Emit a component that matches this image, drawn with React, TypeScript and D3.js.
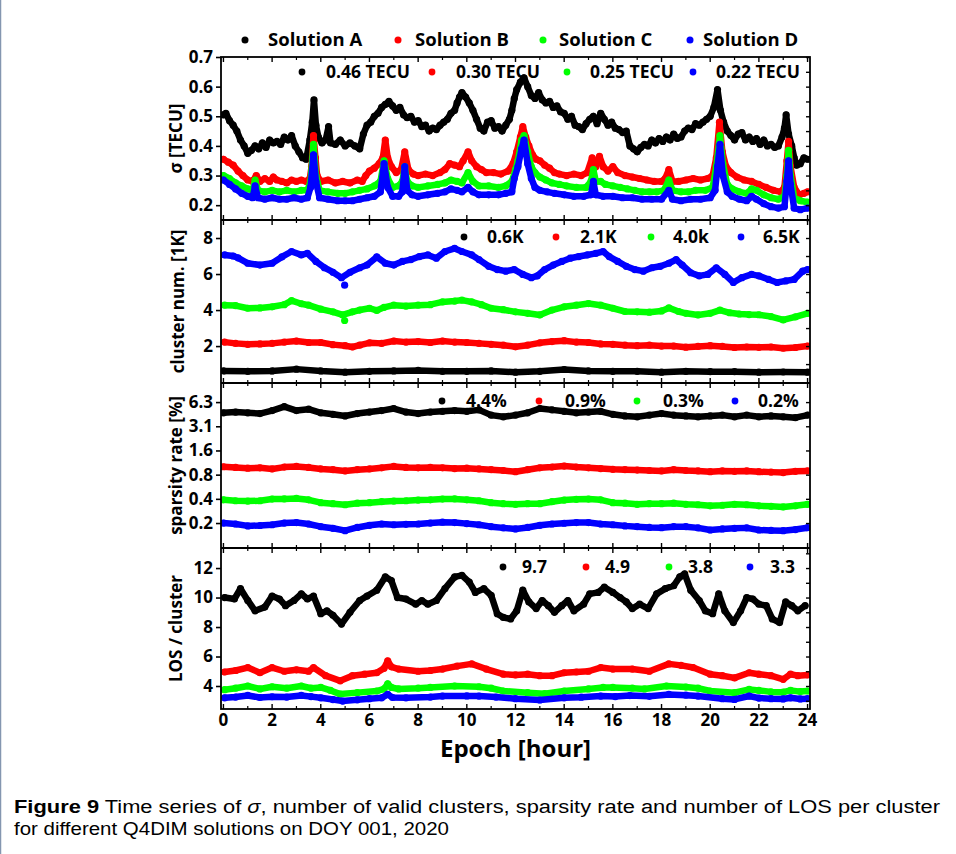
import React, { useRef, useEffect } from 'react';
import * as d3 from 'd3';

type Pt = [number, number];

// legend / series names
const solutions = ['Solution A', 'Solution B', 'Solution C', 'Solution D'];
const colors = ['#000000', '#ff0000', '#00ff00', '#0000ff'];
const sigmaMeans = ['0.46 TECU', '0.30 TECU', '0.25 TECU', '0.22 TECU'];
const clusterMeans = ['0.6K', '2.1K', '4.0k', '6.5K'];
const sparsityMeans = ['4.4%', '0.9%', '0.3%', '0.2%'];
const losMeans = ['9.7', '4.9', '3.8', '3.3'];

const xTicks = [0, 2, 4, 6, 8, 10, 12, 14, 16, 18, 20, 22, 24];
const xMinor = [1, 3, 5, 7, 9, 11, 13, 15, 17, 19, 21, 23];

const sigmaTicks = [0.2, 0.3, 0.4, 0.5, 0.6, 0.7];
const clusterTicks = [2, 4, 6, 8];
const sparsityTicks = [0.1953125, 0.390625, 0.78125, 1.5625, 3.125, 6.25];
const sparsityLabels = ['0.2', '0.4', '0.8', '1.6', '3.1', '6.3'];
const losTicks = [4, 6, 8, 10, 12];

// sigma [TECU]
const sigmaA: Pt[] = [[0,0.505],[0.1,0.51],[0.25,0.485],[0.4,0.47],[0.55,0.45],[0.7,0.42],[0.85,0.4],[1.0,0.375],[1.15,0.385],[1.3,0.4],[1.45,0.39],[1.6,0.41],[1.75,0.395],[1.9,0.42],[2.05,0.41],[2.2,0.415],[2.35,0.405],[2.5,0.43],[2.65,0.42],[2.8,0.435],[2.95,0.4],[3.1,0.38],[3.25,0.36],[3.4,0.355],[3.55,0.42],[3.65,0.48],[3.72,0.555],[3.8,0.47],[3.9,0.43],[4.05,0.41],[4.2,0.42],[4.32,0.465],[4.4,0.41],[4.6,0.405],[4.8,0.42],[5.0,0.4],[5.2,0.41],[5.4,0.4],[5.6,0.39],[5.75,0.44],[5.9,0.47],[6.05,0.48],[6.2,0.5],[6.35,0.51],[6.5,0.53],[6.65,0.54],[6.8,0.55],[6.95,0.535],[7.1,0.52],[7.25,0.53],[7.4,0.505],[7.55,0.495],[7.7,0.5],[7.85,0.48],[8.0,0.485],[8.15,0.465],[8.3,0.47],[8.45,0.45],[8.6,0.46],[8.75,0.455],[8.9,0.47],[9.05,0.48],[9.2,0.49],[9.35,0.51],[9.5,0.52],[9.6,0.545],[9.7,0.565],[9.8,0.58],[9.95,0.565],[10.1,0.545],[10.25,0.52],[10.4,0.49],[10.55,0.46],[10.7,0.45],[10.85,0.48],[11.0,0.485],[11.15,0.46],[11.3,0.465],[11.45,0.45],[11.6,0.47],[11.75,0.49],[11.85,0.52],[11.95,0.56],[12.05,0.59],[12.2,0.615],[12.35,0.63],[12.5,0.6],[12.65,0.57],[12.8,0.56],[12.95,0.58],[13.1,0.555],[13.25,0.545],[13.4,0.55],[13.55,0.53],[13.7,0.535],[13.85,0.515],[14.0,0.51],[14.15,0.49],[14.3,0.5],[14.45,0.47],[14.6,0.465],[14.75,0.455],[14.9,0.475],[15.05,0.49],[15.2,0.5],[15.35,0.475],[15.5,0.51],[15.65,0.49],[15.8,0.47],[15.95,0.48],[16.1,0.46],[16.25,0.455],[16.4,0.445],[16.55,0.45],[16.7,0.4],[16.85,0.39],[17.0,0.38],[17.15,0.395],[17.3,0.405],[17.45,0.4],[17.6,0.42],[17.75,0.41],[17.9,0.425],[18.05,0.415],[18.2,0.43],[18.35,0.42],[18.5,0.44],[18.65,0.425],[18.8,0.43],[18.95,0.45],[19.1,0.46],[19.25,0.455],[19.4,0.475],[19.55,0.47],[19.7,0.48],[19.85,0.49],[20.0,0.5],[20.15,0.53],[20.3,0.59],[20.42,0.52],[20.55,0.48],[20.7,0.45],[20.85,0.435],[21.0,0.42],[21.15,0.44],[21.3,0.445],[21.45,0.42],[21.6,0.43],[21.75,0.415],[21.9,0.425],[22.05,0.405],[22.2,0.42],[22.35,0.4],[22.5,0.405],[22.65,0.395],[22.8,0.4],[22.95,0.43],[23.05,0.46],[23.12,0.505],[23.22,0.44],[23.35,0.4],[23.45,0.36],[23.55,0.335],[23.7,0.34],[23.85,0.36],[24.0,0.355]];
const sigmaB: Pt[] = [[0,0.355],[0.2,0.345],[0.4,0.335],[0.6,0.315],[0.8,0.3],[1.0,0.285],[1.2,0.28],[1.35,0.3],[1.5,0.28],[1.7,0.29],[1.9,0.28],[2.05,0.295],[2.2,0.285],[2.4,0.28],[2.6,0.275],[2.8,0.285],[3.0,0.28],[3.2,0.285],[3.4,0.28],[3.55,0.29],[3.62,0.33],[3.7,0.435],[3.78,0.36],[3.85,0.3],[4.0,0.28],[4.3,0.285],[4.6,0.275],[4.9,0.28],[5.2,0.275],[5.5,0.285],[5.7,0.28],[5.85,0.3],[6.0,0.315],[6.2,0.325],[6.4,0.34],[6.55,0.36],[6.65,0.42],[6.75,0.36],[6.9,0.33],[7.1,0.31],[7.3,0.32],[7.45,0.38],[7.6,0.32],[7.8,0.305],[8.0,0.3],[8.3,0.305],[8.6,0.3],[8.9,0.31],[9.1,0.32],[9.3,0.34],[9.5,0.335],[9.7,0.33],[9.85,0.35],[10.05,0.38],[10.2,0.35],[10.4,0.33],[10.6,0.32],[10.8,0.31],[11.1,0.31],[11.4,0.305],[11.7,0.315],[11.9,0.34],[12.05,0.38],[12.2,0.43],[12.3,0.465],[12.42,0.43],[12.55,0.4],[12.7,0.37],[12.85,0.355],[13.0,0.35],[13.2,0.335],[13.4,0.325],[13.6,0.31],[13.8,0.305],[14.1,0.3],[14.4,0.305],[14.7,0.3],[14.95,0.31],[15.15,0.36],[15.3,0.33],[15.45,0.365],[15.6,0.33],[15.8,0.315],[16.0,0.33],[16.2,0.31],[16.5,0.3],[16.8,0.295],[17.1,0.29],[17.4,0.285],[17.7,0.28],[18.0,0.28],[18.15,0.29],[18.3,0.32],[18.45,0.28],[18.7,0.28],[19.0,0.285],[19.3,0.29],[19.6,0.285],[19.9,0.29],[20.1,0.3],[20.25,0.36],[20.38,0.48],[20.5,0.38],[20.65,0.33],[20.85,0.31],[21.1,0.295],[21.4,0.285],[21.7,0.28],[22.0,0.27],[22.3,0.26],[22.6,0.25],[22.9,0.245],[23.05,0.26],[23.15,0.35],[23.22,0.415],[23.3,0.33],[23.45,0.26],[23.65,0.235],[23.85,0.24],[24.0,0.245]];
const sigmaC: Pt[] = [[0,0.3],[0.25,0.29],[0.5,0.275],[0.75,0.265],[1.0,0.255],[1.2,0.25],[1.3,0.285],[1.42,0.25],[1.7,0.245],[2.0,0.25],[2.3,0.245],[2.6,0.25],[2.9,0.245],[3.2,0.25],[3.45,0.25],[3.58,0.28],[3.7,0.405],[3.8,0.3],[3.95,0.25],[4.3,0.245],[4.7,0.24],[5.0,0.24],[5.3,0.245],[5.6,0.25],[5.9,0.255],[6.2,0.265],[6.45,0.28],[6.6,0.35],[6.75,0.29],[6.95,0.26],[7.2,0.265],[7.35,0.28],[7.45,0.33],[7.55,0.28],[7.75,0.265],[8.0,0.26],[8.4,0.265],[8.8,0.27],[9.1,0.275],[9.35,0.285],[9.6,0.28],[9.8,0.275],[10.05,0.31],[10.25,0.28],[10.5,0.265],[10.9,0.265],[11.3,0.26],[11.6,0.265],[11.85,0.28],[12.0,0.32],[12.1,0.35],[12.25,0.42],[12.35,0.435],[12.5,0.38],[12.65,0.33],[12.8,0.31],[13.0,0.295],[13.25,0.285],[13.5,0.275],[13.8,0.27],[14.1,0.265],[14.5,0.26],[14.9,0.26],[15.1,0.28],[15.2,0.32],[15.3,0.28],[15.5,0.28],[15.7,0.27],[16.0,0.265],[16.3,0.26],[16.6,0.255],[16.9,0.25],[17.2,0.245],[17.5,0.245],[17.8,0.245],[18.1,0.25],[18.3,0.285],[18.45,0.25],[18.8,0.245],[19.1,0.245],[19.4,0.25],[19.8,0.25],[20.1,0.26],[20.25,0.33],[20.4,0.435],[20.52,0.34],[20.7,0.27],[20.9,0.255],[21.2,0.245],[21.5,0.24],[21.7,0.255],[21.9,0.25],[22.2,0.235],[22.5,0.225],[22.8,0.22],[23.05,0.23],[23.15,0.3],[23.22,0.385],[23.3,0.3],[23.45,0.225],[23.7,0.215],[24.0,0.21]];
const sigmaD: Pt[] = [[0,0.285],[0.25,0.27],[0.5,0.255],[0.75,0.24],[1.0,0.23],[1.2,0.225],[1.3,0.265],[1.42,0.225],[1.7,0.22],[2.0,0.225],[2.3,0.22],[2.6,0.22],[2.9,0.225],[3.2,0.22],[3.45,0.225],[3.58,0.26],[3.7,0.37],[3.8,0.28],[3.95,0.225],[4.3,0.22],[4.7,0.215],[5.0,0.215],[5.3,0.215],[5.6,0.22],[5.9,0.225],[6.2,0.23],[6.45,0.245],[6.6,0.34],[6.75,0.26],[6.95,0.23],[7.2,0.23],[7.35,0.245],[7.45,0.33],[7.55,0.25],[7.75,0.235],[8.0,0.23],[8.4,0.235],[8.8,0.24],[9.1,0.245],[9.35,0.255],[9.6,0.25],[9.8,0.245],[10.05,0.26],[10.25,0.245],[10.5,0.235],[10.9,0.235],[11.3,0.235],[11.6,0.24],[11.85,0.245],[11.95,0.29],[12.1,0.33],[12.25,0.39],[12.35,0.42],[12.5,0.34],[12.65,0.29],[12.8,0.26],[13.0,0.25],[13.3,0.245],[13.6,0.24],[14.0,0.235],[14.4,0.23],[14.8,0.23],[15.1,0.235],[15.2,0.28],[15.3,0.235],[15.6,0.23],[16.0,0.23],[16.4,0.225],[16.8,0.225],[17.2,0.22],[17.6,0.22],[18.0,0.22],[18.3,0.25],[18.45,0.22],[18.8,0.215],[19.2,0.22],[19.6,0.22],[20.0,0.225],[20.2,0.25],[20.3,0.33],[20.4,0.405],[20.52,0.3],[20.7,0.245],[20.9,0.23],[21.2,0.22],[21.5,0.215],[21.7,0.23],[21.9,0.22],[22.2,0.205],[22.5,0.195],[22.8,0.19],[23.05,0.195],[23.15,0.28],[23.22,0.35],[23.3,0.27],[23.45,0.19],[23.7,0.185],[24.0,0.19]];

// cluster num. [1K]
const clusterA: Pt[] = [[0,0.62],[1,0.6],[2,0.62],[3,0.72],[4,0.62],[5,0.55],[6,0.6],[7,0.62],[8,0.65],[9,0.6],[10,0.6],[11,0.62],[12,0.55],[13,0.6],[14,0.7],[15,0.62],[16,0.6],[17,0.6],[18,0.55],[19,0.6],[20,0.58],[21,0.58],[22,0.55],[23,0.56],[24,0.55]];
const clusterB: Pt[] = [[0.05,2.22],[0.5,2.15],[1,2.1],[1.5,2.12],[2,2.15],[2.5,2.22],[3,2.28],[3.5,2.2],[4,2.2],[4.5,2.08],[5,2.02],[5.3,1.95],[5.6,2.05],[6,2.18],[6.5,2.15],[7,2.28],[7.5,2.22],[8,2.25],[8.5,2.2],[9,2.28],[9.5,2.22],[10,2.2],[10.5,2.15],[11,2.1],[11.5,2.05],[12,1.96],[12.5,2.05],[13,2.18],[13.5,2.25],[14,2.3],[14.5,2.22],[15,2.2],[15.5,2.12],[16,2.1],[16.5,2.05],[17,2.02],[17.5,2.05],[18,2.0],[18.5,2.0],[19,1.94],[19.5,1.98],[20,2.02],[20.5,1.98],[21,1.92],[21.5,1.95],[22,1.93],[22.5,1.95],[23,1.88],[23.5,1.92],[24,2.0]];
const clusterC: Pt[] = [[0.05,4.27],[0.5,4.25],[1,4.1],[1.5,4.12],[2,4.18],[2.5,4.3],[2.8,4.52],[3.2,4.35],[3.5,4.27],[4,4.05],[4.5,3.9],[4.9,3.73],[5.3,3.9],[5.6,4.0],[6,4.1],[6.3,3.98],[6.6,4.15],[7,4.27],[7.5,4.22],[8,4.27],[8.5,4.3],[9,4.45],[9.5,4.5],[9.8,4.55],[10.2,4.45],[10.6,4.3],[11,4.1],[11.5,4.02],[12,3.9],[12.5,3.82],[13,3.73],[13.5,4.0],[14,4.18],[14.5,4.27],[15,4.36],[15.5,4.27],[16,4.1],[16.5,3.92],[17,3.9],[17.5,3.88],[18,3.95],[18.3,4.12],[18.7,3.92],[19,3.82],[19.5,3.73],[20,3.82],[20.4,4.0],[20.8,3.85],[21.2,3.78],[21.6,3.75],[22,3.74],[22.5,3.64],[23,3.45],[23.5,3.62],[24,3.82]];
const clusterD: Pt[] = [[0.05,7.06],[0.4,7.0],[0.6,6.9],[1.0,6.6],[1.5,6.5],[2.0,6.6],[2.4,6.95],[2.8,7.25],[3.2,7.06],[3.45,7.15],[3.8,6.7],[4.15,6.35],[4.5,6.1],[4.85,5.8],[5.2,6.1],[5.6,6.35],[5.9,6.5],[6.3,6.95],[6.65,6.6],[7.0,6.5],[7.35,6.7],[7.7,6.8],[8.05,6.97],[8.4,7.06],[8.75,6.88],[9.1,7.25],[9.5,7.42],[9.8,7.25],[10.2,7.06],[10.5,6.8],[10.9,6.43],[11.25,6.25],[11.6,6.16],[11.95,6.25],[12.3,5.98],[12.65,5.8],[12.9,5.9],[13.2,6.25],[13.55,6.5],[13.9,6.7],[14.25,6.88],[14.6,6.97],[14.95,7.06],[15.3,7.15],[15.6,7.25],[15.85,6.97],[16.2,6.7],[16.55,6.43],[16.9,6.25],[17.25,6.16],[17.6,6.35],[17.95,6.43],[18.3,6.6],[18.6,6.8],[18.85,6.5],[19.2,6.07],[19.55,5.9],[19.9,5.98],[20.25,6.35],[20.6,5.98],[20.95,5.53],[21.3,5.8],[21.7,5.98],[22.0,5.9],[22.4,5.7],[22.75,5.53],[23.1,5.62],[23.45,5.7],[23.8,6.16],[24,6.25]];
const clusterCOutliers: Pt[] = [[4.98, 3.42]];
const clusterDOutliers: Pt[] = [[4.98, 5.38]];

// sparsity rate [%]
const sparsityA: Pt[] = [[0,4.6],[0.5,4.7],[1,4.6],[1.5,4.5],[2,4.9],[2.5,5.5],[3,4.9],[3.5,5.1],[4,4.6],[4.5,4.4],[5,4.2],[5.5,4.5],[6,4.7],[6.5,4.9],[7,5.2],[7.5,4.7],[8,4.5],[8.5,4.7],[9,4.8],[9.5,4.9],[10,4.8],[10.5,5.0],[11,4.3],[11.5,4.1],[12,4.3],[12.5,4.6],[13,5.2],[13.5,5.0],[14,4.8],[14.5,4.6],[15,4.7],[15.5,4.8],[16,4.4],[16.5,4.2],[17,4.1],[17.5,4.3],[18,4.5],[18.5,4.3],[19,4.2],[19.5,4.1],[20,4.2],[20.5,4.3],[21,4.1],[21.5,4.3],[22,4.1],[22.5,4.2],[23,4.1],[23.5,4.0],[24,4.3]];
const sparsityB: Pt[] = [[0,0.98],[0.5,0.96],[1,0.94],[1.5,0.95],[2,0.92],[2.5,0.97],[3,0.99],[3.5,0.96],[4,0.92],[4.5,0.9],[5,0.87],[5.5,0.9],[6,0.92],[6.5,0.95],[7,0.99],[7.5,0.96],[8,0.95],[8.5,0.96],[9,0.95],[9.5,0.93],[10,0.94],[10.5,0.92],[11,0.9],[11.5,0.88],[12,0.85],[12.5,0.9],[13,0.95],[13.5,0.97],[14,1.0],[14.5,0.97],[15,0.95],[15.5,0.93],[16,0.91],[16.5,0.9],[17,0.89],[17.5,0.88],[18,0.87],[18.5,0.9],[19,0.88],[19.5,0.87],[20,0.85],[20.5,0.87],[21,0.86],[21.5,0.87],[22,0.85],[22.5,0.84],[23,0.83],[23.5,0.86],[24,0.87]];
const sparsityC: Pt[] = [[0,0.38],[0.5,0.37],[1,0.366],[1.5,0.37],[2,0.388],[2.5,0.39],[3,0.395],[3.5,0.38],[4,0.35],[4.5,0.34],[5,0.33],[5.5,0.345],[6,0.35],[6.5,0.36],[7,0.366],[7.5,0.37],[8,0.377],[8.5,0.38],[9,0.388],[9.5,0.39],[10,0.38],[10.5,0.37],[11,0.35],[11.5,0.34],[12,0.334],[12.5,0.34],[13,0.34],[13.5,0.36],[14,0.377],[14.5,0.385],[15,0.388],[15.5,0.38],[16,0.35],[16.5,0.345],[17,0.334],[17.5,0.34],[18,0.34],[18.5,0.345],[19,0.334],[19.5,0.33],[20,0.32],[20.5,0.325],[21,0.334],[21.5,0.33],[22,0.32],[22.5,0.315],[23,0.31],[23.5,0.32],[24,0.334]];
const sparsityD: Pt[] = [[0,0.195],[0.5,0.19],[1,0.18],[1.5,0.182],[2,0.186],[2.5,0.195],[3,0.198],[3.5,0.19],[4,0.176],[4.5,0.168],[5,0.157],[5.5,0.172],[6,0.183],[6.5,0.19],[7,0.186],[7.5,0.188],[8,0.19],[8.5,0.195],[9,0.2],[9.5,0.198],[10,0.192],[10.5,0.186],[11,0.176],[11.5,0.17],[12,0.165],[12.5,0.172],[13,0.183],[13.5,0.19],[14,0.194],[14.5,0.198],[15,0.198],[15.5,0.19],[16,0.186],[16.5,0.18],[17,0.176],[17.5,0.172],[18,0.171],[18.5,0.176],[19,0.176],[19.5,0.17],[20,0.16],[20.5,0.165],[21,0.168],[21.5,0.17],[22,0.16],[22.5,0.158],[23,0.157],[23.5,0.162],[24,0.171]];

// LOS / cluster
const losA: Pt[] = [[0.05,10.0],[0.45,9.9],[0.7,10.6],[1.0,9.8],[1.3,9.1],[1.7,9.35],[2.0,10.1],[2.3,9.9],[2.55,9.45],[2.9,9.8],[3.2,10.25],[3.45,9.9],[3.7,10.1],[4.0,8.9],[4.25,9.1],[4.5,8.8],[4.85,8.2],[5.2,9.0],[5.6,9.8],[5.9,10.1],[6.3,10.5],[6.65,11.4],[6.9,11.15],[7.15,10.0],[7.5,9.9],[7.9,9.55],[8.15,9.8],[8.4,9.55],[8.75,9.8],[9.1,10.6],[9.5,11.4],[9.8,11.5],[10.1,11.05],[10.35,10.35],[10.7,10.6],[11.0,10.15],[11.25,8.9],[11.5,8.65],[11.8,8.55],[12.05,9.1],[12.3,10.5],[12.55,9.7],[12.85,9.25],[13.1,9.8],[13.35,9.45],[13.6,9.0],[13.9,9.45],[14.15,9.8],[14.4,9.1],[14.8,9.55],[15.05,10.25],[15.4,10.35],[15.65,10.7],[16.0,10.35],[16.3,10.0],[16.55,9.7],[16.8,9.25],[17.1,9.55],[17.45,9.25],[17.8,10.25],[18.15,10.6],[18.5,10.8],[18.75,11.4],[18.95,11.6],[19.2,10.5],[19.55,9.8],[19.8,9.1],[20.1,8.9],[20.35,10.25],[20.6,9.1],[20.95,8.3],[21.25,9.1],[21.5,10.0],[21.75,9.9],[22.0,9.55],[22.3,9.45],[22.55,8.55],[22.85,8.3],[23.1,9.7],[23.35,9.45],[23.6,9.1],[23.9,9.45]];
const losB: Pt[] = [[0.05,4.95],[0.5,5.05],[1.0,5.25],[1.5,4.9],[2.0,5.25],[2.5,5.0],[3.0,5.1],[3.5,5.0],[3.7,5.25],[4.2,4.7],[4.8,4.35],[5.3,4.7],[5.8,4.8],[6.3,4.9],[6.6,5.2],[6.75,5.7],[6.9,5.3],[7.2,5.15],[8.0,5.0],[8.5,5.05],[9.0,5.15],[9.6,5.35],[10.2,5.5],[10.8,5.15],[11.5,4.8],[12.0,4.75],[12.5,4.8],[13.0,4.7],[13.5,4.7],[14.0,4.9],[14.5,4.95],[15.0,5.0],[15.5,5.25],[16.0,5.15],[16.8,5.15],[17.5,5.0],[18.3,5.5],[18.8,5.4],[19.3,5.25],[20.0,4.8],[20.5,4.7],[21.0,4.55],[21.6,4.9],[22.0,4.8],[22.5,4.7],[23.0,4.45],[23.3,4.8],[23.6,4.7],[24.0,4.75]];
const losC: Pt[] = [[0.05,3.75],[0.5,3.85],[1.0,4.0],[1.5,3.8],[2.0,3.95],[2.6,3.85],[3.2,4.0],[3.6,3.85],[4.0,3.9],[4.4,3.7],[4.8,3.45],[5.5,3.55],[6.3,3.66],[6.6,3.8],[6.75,4.15],[6.9,3.9],[7.2,3.8],[8.0,3.85],[8.5,3.9],[9.5,4.0],[10.5,3.95],[11.0,3.85],[11.5,3.66],[12.5,3.55],[13.2,3.48],[14.0,3.66],[15.0,3.8],[15.6,3.9],[16.0,3.9],[16.8,3.85],[17.3,3.8],[18.2,4.0],[19.0,3.93],[19.5,3.85],[20.0,3.66],[21.0,3.55],[21.6,3.77],[22.0,3.7],[22.5,3.6],[23.0,3.58],[23.3,3.7],[23.7,3.62],[24.0,3.66]];
const losD: Pt[] = [[0.05,3.2],[0.5,3.25],[1.0,3.36],[1.5,3.22],[2.0,3.27],[2.6,3.25],[3.2,3.36],[3.6,3.28],[4.0,3.2],[4.5,3.08],[4.9,2.98],[5.5,3.06],[6.0,3.14],[6.5,3.2],[6.75,3.43],[6.95,3.22],[7.5,3.2],[8.5,3.25],[9.0,3.32],[10.0,3.33],[10.5,3.32],[11.2,3.25],[12.0,3.14],[13.0,3.05],[14.0,3.2],[14.7,3.24],[15.5,3.32],[16.1,3.28],[16.7,3.35],[17.5,3.3],[18.3,3.43],[19.0,3.38],[19.5,3.32],[20.5,3.14],[21.0,3.09],[21.6,3.32],[22.0,3.18],[22.5,3.14],[23.0,3.12],[23.3,3.2],[23.7,3.12],[24.0,3.14]];

const FONT = "'Open Sans', 'Noto Sans', sans-serif";
const W = 956;
const H = 854;
const plotLeft = 221;
const plotRight = 810;
const edges = [57, 220, 383, 548, 709];

function Chart() {
  const svgRef = useRef<SVGSVGElement>(null);

  useEffect(() => {
    const svg = d3.select(svgRef.current);
    svg.selectAll('*').remove();

    const x = d3.scaleLinear().domain([-0.1, 24.1]).range([plotLeft, plotRight]);

    const panels = [
      {
        series: [sigmaA, sigmaB, sigmaC, sigmaD], extras: [[], [], [], []] as Pt[][],
        y: d3.scaleLinear().domain([0.15, 0.7]).range([edges[1], edges[0]]),
        ticks: sigmaTicks, fmt: (d: number) => d.toFixed(1), minor: d3.range(0.15, 0.701, 0.05),
        title: 'σ [TECU]', titleX: 176,
        legend: sigmaMeans, legY: 72, dots: [302, 432, 567, 693], texts: [326, 456, 590, 716],
      },
      {
        series: [clusterA, clusterB, clusterC, clusterD], extras: [[], [], clusterCOutliers, clusterDOutliers],
        y: d3.scaleLinear().domain([-0.05, 9.0]).range([edges[2], edges[1]]),
        ticks: clusterTicks, fmt: (d: number) => String(d), minor: d3.range(1, 9, 1),
        title: 'cluster num. [1K]', titleX: 178,
        legend: clusterMeans, legY: 237, dots: [464, 556, 651, 741], texts: [487, 580, 673, 763],
      },
      {
        series: [sparsityA, sparsityB, sparsityC, sparsityD], extras: [[], [], [], []] as Pt[][],
        y: d3.scaleLog().domain([0.0955, 10.8]).range([edges[3], edges[2]]),
        ticks: sparsityTicks, fmt: (d: number) => sparsityLabels[sparsityTicks.indexOf(d)], minor: sparsityTicks,
        title: 'sparsity rate [%]', titleX: 176,
        legend: sparsityMeans, legY: 401, dots: [442, 539, 637, 735], texts: [466, 565, 663, 758],
      },
      {
        series: [losA, losB, losC, losD], extras: [[], [], [], []] as Pt[][],
        y: d3.scaleLinear().domain([2.44, 13.36]).range([edges[4], edges[3]]),
        ticks: losTicks, fmt: (d: number) => String(d), minor: d3.range(3, 14, 1),
        title: 'LOS / cluster', titleX: 176,
        legend: losMeans, legY: 567, dots: [503, 586, 669, 750], texts: [522, 605, 688, 770],
      },
    ];

    panels.forEach((p, i) => {
      const top = edges[i];
      const bottom = edges[i + 1];
      const y = p.y as d3.ScaleContinuousNumeric<number, number>;

      const clipId = `clip-${i}`;
      svg.append('clipPath').attr('id', clipId)
        .append('rect')
        .attr('x', plotLeft).attr('y', top)
        .attr('width', plotRight - plotLeft).attr('height', bottom - top);

      const g = svg.append('g').attr('clip-path', `url(#${clipId})`);
      const line = d3.line<Pt>().x(d => x(d[0])).y(d => y(d[1]));

      p.series.forEach((s, k) => {
        g.append('path')
          .attr('d', line(s))
          .attr('fill', 'none')
          .attr('stroke', colors[k])
          .attr('stroke-width', 6.5)
          .attr('stroke-linejoin', 'round')
          .attr('stroke-linecap', 'round');
        g.selectAll(null)
          .data(s.concat(p.extras[k]))
          .join('circle')
          .attr('cx', d => x(d[0]))
          .attr('cy', d => y(d[1]))
          .attr('r', 3.6)
          .attr('fill', colors[k]);
      });

      // left axis, ticks outward
      const la = svg.append('g')
        .attr('transform', `translate(${plotLeft},0)`)
        .call(d3.axisLeft(y).tickValues(p.ticks).tickFormat(d => p.fmt(d as number)).tickSize(5).tickPadding(3));
      la.select('.domain').remove();
      la.selectAll('line').attr('stroke', '#000').attr('stroke-width', 1.6);
      la.selectAll('text')
        .attr('font-family', FONT).attr('font-weight', 700).attr('font-size', 17).attr('fill', '#000');

      // right axis, ticks inward
      const ra = svg.append('g')
        .attr('transform', `translate(${plotRight},0)`)
        .call(d3.axisRight(y).tickValues(p.minor).tickFormat(() => '').tickSize(-4));
      ra.select('.domain').remove();
      ra.selectAll('line').attr('stroke', '#000').attr('stroke-width', 1.4);

      // top and bottom hour ticks, inward
      [[top, 1], [bottom, -1]].forEach(([yy, dir]) => {
        const tg = svg.append('g');
        tg.selectAll('line.major').data(xTicks).join('line')
          .attr('x1', d => x(d)).attr('x2', d => x(d))
          .attr('y1', yy).attr('y2', yy + dir * 5)
          .attr('stroke', '#000').attr('stroke-width', 1.4);
        tg.selectAll('line.minor').data(xMinor).join('line')
          .attr('x1', d => x(d)).attr('x2', d => x(d))
          .attr('y1', yy).attr('y2', yy + dir * 3)
          .attr('stroke', '#000').attr('stroke-width', 1.2);
      });

      // y title
      svg.append('text')
        .attr('transform', `translate(${p.titleX},${(top + bottom) / 2}) rotate(-90)`)
        .attr('text-anchor', 'middle')
        .attr('dy', '0.35em')
        .attr('font-family', FONT).attr('font-weight', 700).attr('font-size', 17)
        .text(p.title);

      // in-panel legend
      p.legend.forEach((lab, k) => {
        svg.append('circle').attr('cx', p.dots[k]).attr('cy', p.legY).attr('r', 3.4).attr('fill', colors[k]);
        svg.append('text')
          .attr('x', p.texts[k]).attr('y', p.legY).attr('dy', '0.35em')
          .attr('font-family', FONT).attr('font-weight', 700).attr('font-size', 17.5)
          .text(lab);
      });
    });

    // frame and separators
    svg.append('rect')
      .attr('x', plotLeft).attr('y', edges[0])
      .attr('width', plotRight - plotLeft).attr('height', edges[4] - edges[0])
      .attr('fill', 'none').attr('stroke', '#000').attr('stroke-width', 1.8);
    [edges[1], edges[2], edges[3]].forEach(e => {
      svg.append('line')
        .attr('x1', plotLeft).attr('x2', plotRight).attr('y1', e).attr('y2', e)
        .attr('stroke', '#000').attr('stroke-width', 1.8);
    });

    // hour labels
    svg.append('g').selectAll('text').data(xTicks).join('text')
      .attr('x', d => x(d)).attr('y', edges[4] + 17)
      .attr('text-anchor', 'middle')
      .attr('font-family', FONT).attr('font-weight', 700).attr('font-size', 17)
      .text(d => String(d));

    svg.append('text')
      .attr('x', (plotLeft + plotRight) / 2).attr('y', 757)
      .attr('text-anchor', 'middle')
      .attr('font-family', FONT).attr('font-weight', 700).attr('font-size', 24)
      .text('Epoch [hour]');

    // top legend
    const topDots = [245, 398, 543, 690];
    const topTexts = [268, 415, 559, 703];
    solutions.forEach((s, k) => {
      svg.append('circle').attr('cx', topDots[k]).attr('cy', 40).attr('r', 3.5).attr('fill', colors[k]);
      svg.append('text')
        .attr('x', topTexts[k]).attr('y', 40).attr('dy', '0.35em')
        .attr('font-family', FONT).attr('font-weight', 700).attr('font-size', 18.5)
        .text(s);
    });
  }, []);

  return (
    <svg ref={svgRef} width={W} height={H}
      style={{ position: 'absolute', left: 0, top: 0, background: '#fff' }} />
  );
}

function Caption() {
  return (
    <svg width={W} height={H} style={{ position: 'absolute', left: 0, top: 0, pointerEvents: 'none' }}>
      <line x1={0.5} x2={0.5} y1={0} y2={H} stroke="#8496b0" strokeWidth={1.5} />
      <text x={14} y={813} fontFamily="'Liberation Sans', sans-serif" fontSize={18} textLength={926} lengthAdjust="spacingAndGlyphs">
        <tspan fontWeight={700}>Figure 9</tspan>
        <tspan> Time series of </tspan>
        <tspan fontStyle="italic">σ</tspan>
        <tspan>, number of valid clusters, sparsity rate and number of LOS per cluster</tspan>
      </text>
      <text x={14} y={835} fontFamily="'Liberation Sans', sans-serif" fontSize={18} textLength={435} lengthAdjust="spacingAndGlyphs">
        for different Q4DIM solutions on DOY 001, 2020
      </text>
    </svg>
  );
}

export default function App() {
  return (
    <div style={{ position: 'absolute', left: 0, top: 0, width: W, height: H }}>
      <Chart />
      <Caption />
    </div>
  );
}
